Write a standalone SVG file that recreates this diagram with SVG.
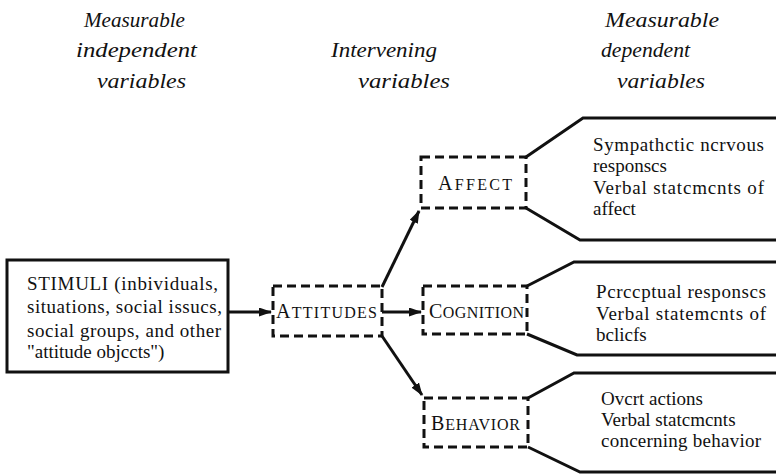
<svg xmlns="http://www.w3.org/2000/svg" width="776" height="475" viewBox="0 0 776 475">
  <style>
    text { font-family: 'Liberation Serif', serif; fill: #111; }
    .head { font-style: italic; font-size: 22px; }
    .body { font-size: 19px; }
    .cap { font-size: 20px; }
    .sc { font-size: 16px; }
    .solid { fill: none; stroke: #111; stroke-width: 3; stroke-linejoin: miter; }
    .dash { fill: none; stroke: #111; stroke-width: 3; stroke-dasharray: 9 5; }
    .link { fill: none; stroke: #111; stroke-width: 3; }
  </style>
  <defs>
    <marker id="arrow" viewBox="0 0 13 9" refX="12" refY="4.5" markerWidth="13" markerHeight="9" markerUnits="userSpaceOnUse" orient="auto">
      <path d="M0,0 L13,4.5 L0,9 Z" fill="#111"/>
    </marker>
  </defs>
  <rect width="776" height="475" fill="#fff"/>

  <!-- column headings -->
  <g id="headings" font-family="'Liberation Serif', serif">
    <text class="head" x="84" y="27" textLength="101" lengthAdjust="spacingAndGlyphs">Measurable</text>
    <text class="head" x="76" y="57" textLength="121" lengthAdjust="spacingAndGlyphs">independent</text>
    <text class="head" x="97" y="88" textLength="89" lengthAdjust="spacingAndGlyphs">variables</text>
    <text class="head" x="331" y="57" textLength="106" lengthAdjust="spacingAndGlyphs">Intervening</text>
    <text class="head" x="358" y="88" textLength="92" lengthAdjust="spacingAndGlyphs">variables</text>
    <text class="head" x="605" y="27" textLength="114" lengthAdjust="spacingAndGlyphs">Measurable</text>
    <text class="head" x="601" y="57" textLength="89" lengthAdjust="spacingAndGlyphs">dependent</text>
    <text class="head" x="617" y="88" textLength="88" lengthAdjust="spacingAndGlyphs">variables</text>
  </g>

  <!-- stimulus box -->
  <g id="stimuli" font-family="'Liberation Serif', serif">
    <rect class="solid" x="7" y="260" width="221" height="112"/>
    <text class="body" x="27" y="290" textLength="191" lengthAdjust="spacing">STIMULI  (inbividuals,</text>
    <text class="body" x="27" y="313" textLength="195" lengthAdjust="spacing">situations, social issucs,</text>
    <text class="body" x="27" y="337" textLength="194" lengthAdjust="spacing">social groups, and other</text>
    <text class="body" x="27" y="358">"attitude objccts")</text>
  </g>

  <!-- intervening variable -->
  <g id="attitudes" font-family="'Liberation Serif', serif">
    <rect class="dash" x="273" y="286" width="109" height="50"/>
    <text class="cap" x="276" y="318" textLength="101" lengthAdjust="spacing">A<tspan class="sc">TTITUDES</tspan></text>
  </g>

  <!-- attitude components -->
  <g id="affect" font-family="'Liberation Serif', serif">
    <rect class="dash" x="421" y="157" width="105" height="51"/>
    <text class="cap" x="438" y="190" textLength="74" lengthAdjust="spacing">A<tspan class="sc">FFECT</tspan></text>
  </g>
  <g id="cognition" font-family="'Liberation Serif', serif">
    <rect class="dash" x="423" y="286" width="104" height="48"/>
    <text class="cap" x="429" y="318" textLength="95" lengthAdjust="spacing">C<tspan class="sc">OGNITION</tspan></text>
  </g>
  <g id="behavior" font-family="'Liberation Serif', serif">
    <rect class="dash" x="424" y="398" width="104" height="49"/>
    <text class="cap" x="431" y="430" textLength="89" lengthAdjust="spacing">B<tspan class="sc">EHAVIOR</tspan></text>
  </g>

  <!-- measured responses -->
  <g id="affect-responses" font-family="'Liberation Serif', serif">
    <path class="solid" d="M526,157 L583,118 L776,118 M526,208 L580,240 L776,240"/>
    <text class="body" x="593" y="151" textLength="171" lengthAdjust="spacing">Sympathctic  ncrvous</text>
    <text class="body" x="593" y="172">responscs</text>
    <text class="body" x="593" y="194" textLength="171" lengthAdjust="spacing">Verbal  statcmcnts  of</text>
    <text class="body" x="593" y="215">affect</text>
  </g>
  <g id="cognition-responses" font-family="'Liberation Serif', serif">
    <path class="solid" d="M527,286 L574,262 L776,262 M527,334 L577,355 L776,355"/>
    <text class="body" x="596" y="298" textLength="170" lengthAdjust="spacing">Pcrccptual  responscs</text>
    <text class="body" x="596" y="320" textLength="170" lengthAdjust="spacing">Verbal  statemcnts  of</text>
    <text class="body" x="596" y="341">bclicfs</text>
  </g>
  <g id="behavior-responses" font-family="'Liberation Serif', serif">
    <path class="solid" d="M528,398 L574,373 L776,373 M528,447 L580,472 L776,472"/>
    <text class="body" x="601" y="405">Ovcrt actions</text>
    <text class="body" x="601" y="426">Verbal statcmcnts</text>
    <text class="body" x="601" y="447" textLength="160" lengthAdjust="spacing">concerning behavior</text>
  </g>

  <!-- connectors -->
  <g id="connectors">
    <line class="link" x1="228" y1="312" x2="271" y2="312" marker-end="url(#arrow)"/>
    <line class="link" x1="382" y1="287" x2="419" y2="211" marker-end="url(#arrow)"/>
    <line class="link" x1="382" y1="312" x2="421" y2="312" marker-end="url(#arrow)"/>
    <line class="link" x1="382" y1="336" x2="422" y2="395" marker-end="url(#arrow)"/>
  </g>
</svg>
